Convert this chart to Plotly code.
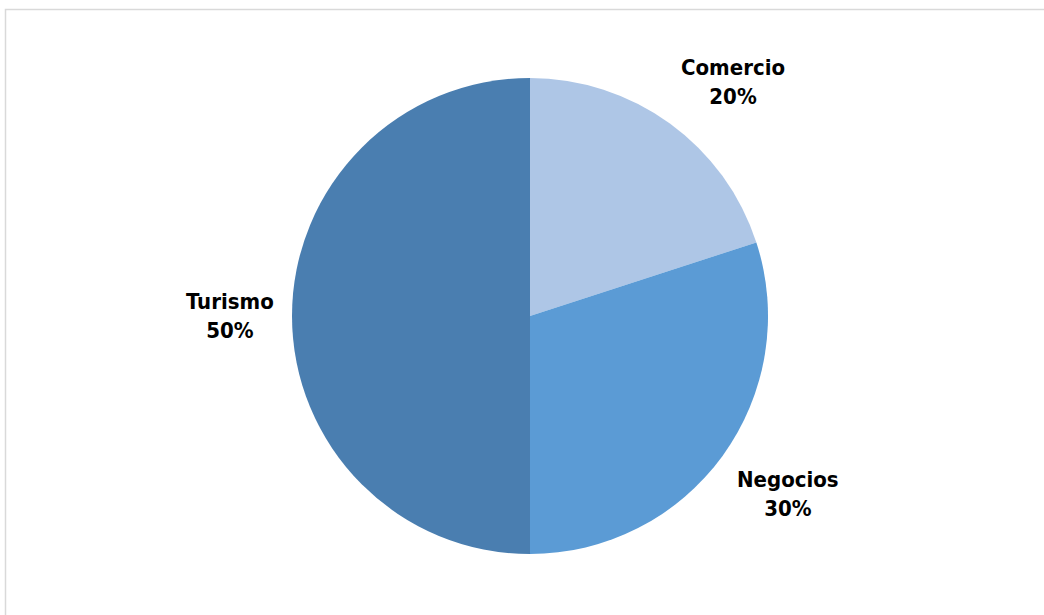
import math
import plotly.graph_objects as go

categories = ["Comercio", "Negocios", "Turismo"]
values = [20, 30, 50]
colors = ["#AEC6E6", "#5B9BD5", "#4A7EB0"]

W, H = 1044, 615
cx, cy, r = 530, 316, 238  # pie centre / radius in pixels (from top-left)
gap = 16

fig = go.Figure()
fig.add_trace(go.Pie(
    labels=categories,
    values=values,
    sort=False,
    direction="clockwise",
    rotation=0,
    marker=dict(colors=colors, line=dict(width=0)),
    textinfo="none",
    hoverinfo="label+percent",
    showlegend=False,
    domain=dict(x=[(cx - r) / W, (cx + r) / W], y=[(H - cy - r) / H, (H - cy + r) / H]),
))

total = sum(values)
cum = 0
annotations = []
for cat, v in zip(categories, values):
    mid = (cum + v / 2) / total * 2 * math.pi
    cum += v
    s, c = math.sin(mid), math.cos(mid)
    px = cx + (r + gap) * s
    py = cy - (r + gap) * c
    xa = "center" if abs(s) < 0.3 else ("left" if s > 0 else "right")
    ya = "middle" if abs(c) < 0.3 else ("bottom" if c > 0 else "top")
    annotations.append(dict(
        x=px / W, y=1 - py / H, xref="paper", yref="paper",
        text=f"{cat}<br>{round(v / total * 100)}%",
        showarrow=False, xanchor=xa, yanchor=ya, align="center",
        font=dict(family="DejaVu Sans Condensed, Liberation Sans Narrow, Roboto", size=22, color="#000000", weight="bold"),
    ))

fig.update_layout(
    width=W, height=H,
    margin=dict(l=0, r=0, t=0, b=0),
    paper_bgcolor="white",
    plot_bgcolor="white",
    annotations=annotations,
    shapes=[dict(type="rect", xref="paper", yref="paper",
                 x0=5.5 / W, x1=1.2, y0=-0.2, y1=1 - 9.5 / H,
                 line=dict(color="#D9D9D9", width=1.5), layer="below")],
)

fig.write_html("out.html", config={"displayModeBar": False},
               post_script="document.body.style.margin='0';document.body.style.overflow='hidden';")
